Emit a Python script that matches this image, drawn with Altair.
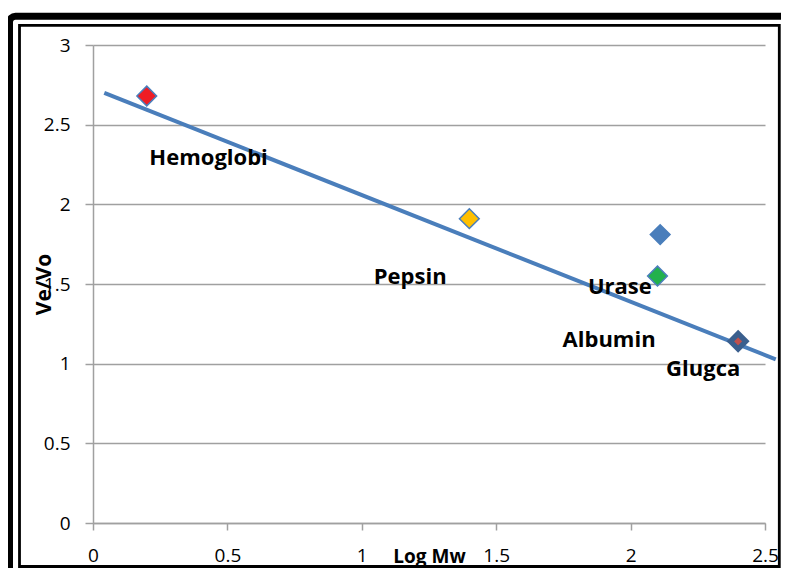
import altair as alt
import pandas as pd

# ---- data ----
names = ["Hemoglobi", "Pepsin", "Urase", "Albumin", "Glugca"]
log_mw = [0.20, 1.40, 2.11, 2.10, 2.40]
ve_vo = [2.68, 1.91, 1.81, 1.55, 1.14]

label_text = ["Hemoglobi", "Pepsin", "Urase", "Albumin", "Glugca"]
label_x = [0.43, 1.18, 1.96, 1.92, 2.27]
label_y = [2.25, 1.50, 1.44, 1.105, 0.925]

trend_x = [0.042, 2.54]
trend_y = [2.70, 1.027]

x_ticks = [0, 0.5, 1, 1.5, 2, 2.5]
y_ticks = [0, 0.5, 1, 1.5, 2, 2.5, 3]

fill_colors = ["#ee1c24", "#ffc000", "#4a7ebb", "#22b14c", "#c0504d"]
stroke_colors = ["#4a7ebb", "#4a7ebb", "#4a7ebb", "#4a7ebb", "#3a5f8e"]

points = pd.DataFrame({"name": names, "x": log_mw, "y": ve_vo})
labels = pd.DataFrame({"text": label_text, "x": label_x, "y": label_y})
trend = pd.DataFrame({"x": trend_x, "y": trend_y})

FONT = "Open Sans"
GRID = "#a0a0a0"

xscale = alt.Scale(domain=[0, 2.5], nice=False, zero=False)
yscale = alt.Scale(domain=[0, 3], nice=False, zero=False)

xaxis = alt.Axis(
    title="Log Mw", values=x_ticks, format="~g", grid=False,
    domainColor=GRID, domainWidth=1.5, tickColor=GRID, tickWidth=1.5, tickSize=7,
    labelFont=FONT, labelFontSize=19, labelColor="black", labelPadding=31,
    labelBaseline="alphabetic", labelFlush=False,
    titleFont=FONT, titleFontSize=19, titleFontWeight="bold", titleColor="black",
    titleX=336, titleY=39, titleBaseline="alphabetic", titleAlign="center",
)
yaxis = alt.Axis(
    title="Ve/Vo", values=y_ticks, format="~g", grid=True,
    gridColor=GRID, gridWidth=1.5,
    domainColor=GRID, domainWidth=1.5, tickColor=GRID, tickWidth=1.5, tickSize=8,
    labelFont=FONT, labelFontSize=19, labelColor="black", labelPadding=15,
    labelFlush=False,
    titleFont=FONT, titleFontSize=21, titleFontWeight="bold", titleColor="black",
    titleX=-43, titleY=239, titleBaseline="alphabetic", titleAlign="center",
    titleAngle=270,
)

trend_layer = alt.Chart(trend).mark_line(color="#4a7ebb", strokeWidth=4).encode(
    x=alt.X("x:Q", scale=xscale, axis=xaxis),
    y=alt.Y("y:Q", scale=yscale, axis=yaxis),
)

point_layer = alt.Chart(points).mark_point(shape="diamond", filled=True, opacity=1).encode(
    x=alt.X("x:Q", scale=xscale),
    y=alt.Y("y:Q", scale=yscale),
    fill=alt.Fill("name:N", scale=alt.Scale(domain=names, range=fill_colors), legend=None),
    stroke=alt.Stroke("name:N", scale=alt.Scale(domain=names, range=stroke_colors), legend=None),
    strokeWidth=alt.condition(alt.datum.name == "Glugca", alt.value(5.3), alt.value(1.5)),
    size=alt.condition(alt.datum.name == "Glugca", alt.value(240), alt.value(390)),
)

label_layer = alt.Chart(labels).mark_text(
    font=FONT, fontSize=22, fontWeight="bold", color="black",
    align="center", baseline="alphabetic",
).encode(
    x=alt.X("x:Q", scale=xscale),
    y=alt.Y("y:Q", scale=yscale),
    text="text:N",
)

one = alt.Data(values=[{}])
outer_frame = alt.Chart(one).mark_rect(
    filled=False, color="black", strokeWidth=7, cornerRadius=6
).encode(
    x=alt.value(-83.5), x2=alt.value(700), y=alt.value(-28.7), y2=alt.value(540)
)
inner_frame = alt.Chart(one).mark_rect(
    filled=False, color="black", strokeWidth=2.8
).encode(
    x=alt.value(-73.5), x2=alt.value(686.3), y=alt.value(-19.7), y2=alt.value(521.5)
)

chart = alt.layer(trend_layer, point_layer, label_layer, outer_frame, inner_frame).properties(
    width=672, height=478,
    autosize=alt.AutoSizeParams(type="none"),
    padding={"left": 85, "top": 37, "right": 16, "bottom": 45},
    background="white",
).configure_view(stroke=None)

chart.save("out.html", embed_options={"renderer": "svg", "actions": False})
